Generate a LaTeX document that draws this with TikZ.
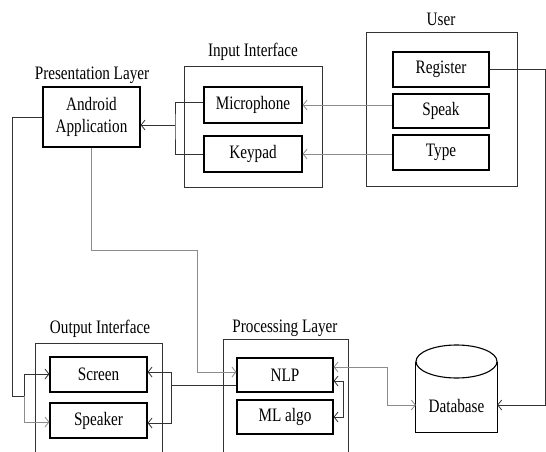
\documentclass[tikz,border=0pt]{standalone}
\usepackage{fontspec}
\setmainfont{Liberation Serif}[FakeStretch=0.8]
\usetikzlibrary{arrows.meta}
\begin{document}
\begin{tikzpicture}[x=1pt,y=-1pt,
  txt/.style={font=\fontsize{19}{22}\selectfont},
  box/.style={txt, draw=black, line width=1.1pt, minimum width=96pt, minimum height=35pt, inner sep=0pt, align=center},
  grp/.style={draw=black!80, line width=0.9pt, inner sep=0pt},
  ttl/.style={txt, inner sep=0pt, anchor=base},
  dk/.style={draw=black!80, line width=0.8pt},
  lt/.style={draw=black!45, line width=0.8pt},
  arr/.style={-{Straight Barb[length=4pt,width=10pt]}},
  barr/.style={{Straight Barb[length=4pt,width=10pt]}-{Straight Barb[length=4pt,width=10pt]}}
]
\clip (0,0) rectangle (546,452);
\fill[white] (0,0) rectangle (546,452);

% group containers
\node[grp, minimum width=138pt, minimum height=121pt] (inbox) at (253,126.5) {};
\node[grp, minimum width=151pt, minimum height=154pt] (userbox) at (441.5,109) {};
\draw[grp] (35,470) -- (35,343) -- (162,343) -- (162,470);
\draw[grp] (223,470) -- (223,339) -- (348,339) -- (348,470);

% titles
\node[ttl] (tpres) at (92,79) {Presentation Layer};
\node[ttl] (tin) at (253,57) {Input Interface};
\node[ttl] (tuser) at (441,26) {User};
\node[ttl] (tout) at (100,333) {Output Interface};
\node[ttl] (tproc) at (285,332) {Processing Layer};

% boxes
\node[box, minimum width=97pt, minimum height=60pt] (android) at (91.5,117) {Android\\Application};
\node[box, minimum width=98pt, minimum height=36pt] (mic) at (253,105) {Microphone};
\node[box, minimum width=98pt, minimum height=36pt] (keypad) at (253,154) {Keypad};
\node[box] (register) at (441,69.5) {Register};
\node[box, minimum height=34pt] (speak) at (441,111) {Speak};
\node[box] (type) at (441,152.5) {Type};
\node[box, minimum width=97pt] (screen) at (98.5,374.5) {Screen};
\node[box, minimum width=97pt] (speaker) at (98.5,420.5) {Speaker};
\node[box, minimum height=34pt] (nlp) at (285,375) {NLP};
\node[box, minimum height=34pt] (ml) at (285,417) {ML algo};

% database cylinder
\node[minimum width=81pt, minimum height=87pt, inner sep=0pt] (db) at (456.5,388.5) {};
\draw[line width=1.1pt] (db.west |- 0,361.5) -- (db.south west) -- (db.south east) -- (db.east |- 0,361.5);
\draw[line width=1.1pt] (456.5,361.5) ellipse [x radius=40.5, y radius=16.5];
\node[txt, inner sep=0pt] (dblabel) at (456.5,406) {Database};

% coordinates
\coordinate (jin) at (175,125);
\coordinate (jl) at (12,396);
\coordinate (jf) at (24,396);
\coordinate (jr) at (171,385);
\coordinate (ja) at (197,250);
\coordinate (jdb) at (387,367);
\coordinate (jml) at (343,381);
\coordinate (jreg) at (545,405);

% user -> input
\draw[lt, arr] (speak.west |- mic.east) -- (mic.east);
\draw[lt, arr] (type.west |- keypad.east) -- (keypad.east);

% input -> android
\draw[dk] (mic.west |- 0,102) -| (jin) |- (keypad.west);
\draw[dk, arr] (jin) -- (jin -| android.east);

% register -> database
\draw[dk, arr] (register.east) -| (jreg) -- (jreg -| db.east);

% android -> screen / speaker
\draw[dk] (android.west) -| (jl) -- (jf);
\draw[dk, arr] (jf) |- (screen.west |- 0,374);
\draw[lt, arr] (jf) |- (speaker.west |- 0,422);

% android -> nlp
\draw[lt, arr] (android.south) |- (ja) |- (nlp.west |- 0,372);

% nlp -> screen / speaker
\draw[dk] (nlp.west |- jr) -- (jr);
\draw[dk, arr] (jr) |- (screen.east |- 0,372);
\draw[dk, arr] (jr) |- (speaker.east |- 0,423);

% nlp <-> database
\draw[lt, barr] (nlp.east |- jdb) -- (jdb) |- (db.west |- 0,405);

% ml <-> nlp
\draw[dk, barr] (ml.east) -| (jml) -- (jml -| nlp.east);
\end{tikzpicture}
\end{document}
